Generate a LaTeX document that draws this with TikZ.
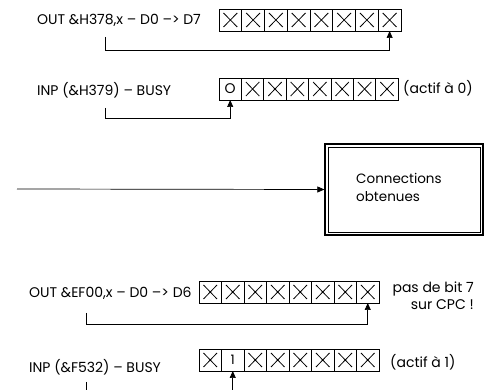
\documentclass[tikz,border=0pt]{standalone}
\usepackage{fontspec}
\setmainfont{Poppins}
\usetikzlibrary{arrows.meta,calc}
\begin{document}
\begin{tikzpicture}[x=1pt,y=-1pt,
  cellbox/.style={draw,line width=0.8pt,minimum height=22pt,inner sep=0pt,outer sep=0pt},
  lbl/.style={font=\fontsize{14}{16}\selectfont,inner sep=0pt},
  conn/.style={line width=0.7pt,-{Triangle[length=7pt,width=6pt]}},
  plain/.style={line width=0.7pt},
  xmark/.style={line width=0.8pt},
]
\useasboundingbox (0,0) rectangle (491,390);
% row 1
\node[lbl,anchor=west] (t1) at (37,20) {OUT \&H378,x – D0 –> D7};
\foreach \i in {1,...,8}{
  \node[cellbox,minimum width=22.75pt] (a\i) at ({219+(\i-0.5)*22.75},20) {};
  \draw[xmark] ($(a\i.north west)+(4.5,4)$) -- ($(a\i.south east)+(-4.5,-4)$)
               ($(a\i.south west)+(4.5,-4)$) -- ($(a\i.north east)+(-4.5,4)$);
}
\coordinate (s1) at (105,37);
\draw[conn] (s1) -- ++(0,13) -| (a8.south);
% row 2
\node[lbl,anchor=west] (t2) at (37,90) {INP (\&H379) – BUSY};
\node[cellbox,minimum width=22.4pt,font=\fontsize{14}{14}\selectfont] (b1) at ({219+0.5*22.4},89) {O};
\foreach \i in {2,...,8}{
  \node[cellbox,minimum width=22.4pt] (b\i) at ({219+(\i-0.5)*22.4},89) {};
  \draw[xmark] ($(b\i.north west)+(4.5,4)$) -- ($(b\i.south east)+(-4.5,-4)$)
               ($(b\i.south west)+(4.5,-4)$) -- ($(b\i.north east)+(-4.5,4)$);
}
\node[lbl,anchor=west] (n2) at (403,88) {(actif à 0)};
\coordinate (s2) at (105,108);
\draw[conn] (s2) -- ++(0,10) -| (b1.south);
% middle
\node[draw,line width=1.3pt,minimum width=158pt,minimum height=91pt,inner sep=0pt] (box) at (404,189.5) {};
\draw[line width=0.5pt] ($(box.north west)+(3.5,3.5)$) rectangle ($(box.south east)+(-3.5,-3.5)$);
\node[lbl,anchor=west,align=left,font=\fontsize{13.5}{18}\selectfont] (bt) at (356,187) {Connections\\obtenues};
\coordinate (s0) at (17,189);
\draw[conn] (s0) -- (box.west);
% row 3
\node[lbl,anchor=west] (t3) at (29,293) {OUT \&EF00,x – D0 –> D6};
\foreach \i in {1,...,8}{
  \node[cellbox,minimum width=22.5pt] (c\i) at ({199+(\i-0.5)*22.5},292) {};
  \draw[xmark] ($(c\i.north west)+(4.5,4)$) -- ($(c\i.south east)+(-4.5,-4)$)
               ($(c\i.south west)+(4.5,-4)$) -- ($(c\i.north east)+(-4.5,4)$);
}
\node[lbl,anchor=north east,align=right,font=\fontsize{14}{17}\selectfont] (n3) at (474,282) {pas de bit 7\\sur CPC !};
\coordinate (s3) at (86,313);
\draw[conn] (s3) -- ++(0,11) -| (c8.south);
% row 4
\node[lbl,anchor=west] (t4) at (29,367) {INP (\&F532) – BUSY};
\foreach \i in {1,3,4,5,6,7,8}{
  \node[cellbox,minimum width=22.5pt] (d\i) at ({199+(\i-0.5)*22.5},360) {};
  \draw[xmark] ($(d\i.north west)+(4.5,4)$) -- ($(d\i.south east)+(-4.5,-4)$)
               ($(d\i.south west)+(4.5,-4)$) -- ($(d\i.north east)+(-4.5,4)$);
}
\node[cellbox,minimum width=22.5pt,font=\fontsize{13}{13}\selectfont] (d2) at ({199+1.5*22.5},360) {1};
\node[lbl,anchor=west] (n4) at (390,362) {(actif à 1)};
\coordinate (s4) at (86,382);
\coordinate (e4) at (86,390);
\draw[plain] (s4) -- (e4);
\coordinate (s5) at (232.75,390);
\draw[conn] (s5) -- (d2.south);
\end{tikzpicture}
\end{document}
